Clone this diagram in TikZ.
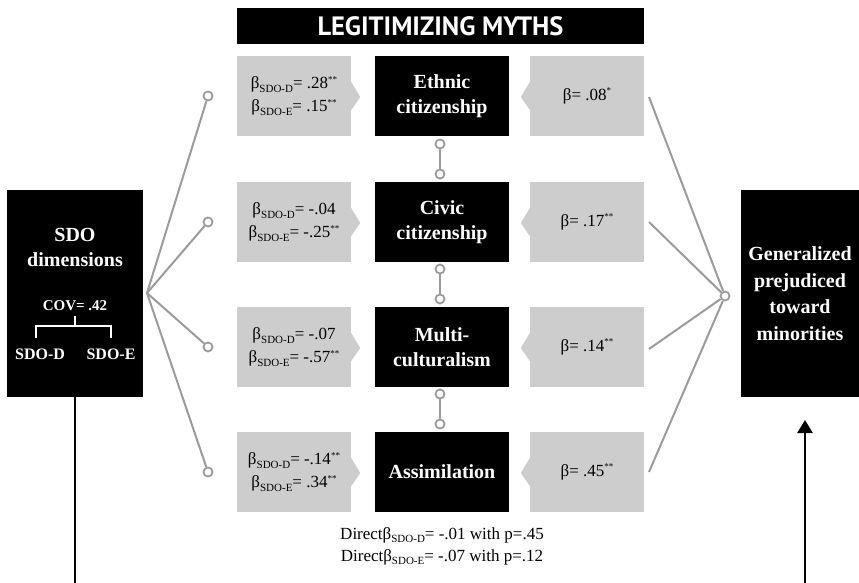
\documentclass[tikz,border=0pt]{standalone}
\usepackage{fontspec}
\setmainfont{Liberation Serif}
\newfontfamily\headfont{PT Sans}
\usetikzlibrary{arrows.meta}

\definecolor{boxgray}{RGB}{205,205,205}
\definecolor{linkgray}{RGB}{155,155,155}

% beta with a lowered label, and significance stars
\newcommand{\bsub}[1]{β\raisebox{-3.5pt}{\fontsize{11}{11}\selectfont #1}}
\newcommand{\stars}[1]{\raisebox{6.5pt}{\fontsize{9}{9}\selectfont #1}}

\tikzset{
  gbox/.style={fill=boxgray, minimum width=114pt, minimum height=80pt,
    inner sep=0pt, align=center, font=\fontsize{17}{23}\selectfont},
  bbox/.style={fill=black, text=white, minimum width=134pt, minimum height=80pt,
    inner sep=0pt, align=center, font=\bfseries\fontsize{20}{25}\selectfont},
  tallbox/.style={fill=black, text=white, minimum height=207pt,
    inner sep=0pt, align=center},
  link/.style={draw=linkgray, line width=2pt},
  knob/.style={circle, draw=linkgray, fill=white, line width=1.8pt,
    minimum size=9pt, inner sep=0pt},
  wline/.style={draw=white, line width=2pt},
  whitetext/.style={text=white, inner sep=0pt, font=\bfseries\fontsize{16}{18}\selectfont},
}

\begin{document}
\begin{tikzpicture}[x=1pt,y=-1pt]
\useasboundingbox (0,0) rectangle (859,583);

% heading bar
\node[fill=black, text=white, minimum width=407pt, minimum height=36pt, inner sep=0pt,
  font=\headfont\bfseries\fontsize{26.5}{28}\selectfont] (title) at (440.5,26) {LEGITIMIZING MYTHS};

% left coefficient boxes
\node[gbox] (lg1) at (294,96)  {\bsub{SDO-D}= .28\stars{**}\\\bsub{SDO-E}= .15\stars{**}};
\node[gbox] (lg2) at (294,222) {\bsub{SDO-D}= -.04\\\bsub{SDO-E}= -.25\stars{**}};
\node[gbox] (lg3) at (294,347) {\bsub{SDO-D}= -.07\\\bsub{SDO-E}= -.57\stars{**}};
\node[gbox] (lg4) at (294,472) {\bsub{SDO-D}= -.14\stars{**}\\\bsub{SDO-E}= .34\stars{**}};

% legitimizing myths
\node[bbox] (m1) at (442,96)  {Ethnic\\citizenship};
\node[bbox] (m2) at (442,222) {Civic\\citizenship};
\node[bbox] (m3) at (442,347) {Multi-\\culturalism};
\node[bbox] (m4) at (442,472) {Assimilation};

% right coefficient boxes
\node[gbox] (rg1) at (587,96)  {β= .08\stars{*}};
\node[gbox] (rg2) at (587,222) {β= .17\stars{**}};
\node[gbox] (rg3) at (587,347) {β= .14\stars{**}};
\node[gbox] (rg4) at (587,472) {β= .45\stars{**}};

% pointers of the coefficient boxes
\foreach \i in {1,...,4}{
  \fill[boxgray] ([yshift=14pt]lg\i.east) -- ([xshift=9pt,yshift=-1pt]lg\i.east)
    -- ([yshift=-14pt]lg\i.east) -- cycle;
  \fill[boxgray] ([yshift=14pt]rg\i.west) -- ([xshift=-9pt,yshift=-1pt]rg\i.west)
    -- ([yshift=-14pt]rg\i.west) -- cycle;
}

% SDO dimensions
\node[tallbox, minimum width=136pt] (sdo) at (75,293.5) {};
\node[whitetext, align=center, font=\bfseries\fontsize{20}{25}\selectfont] (sdot) at (75,247) {SDO\\dimensions};
\node[whitetext, font=\bfseries\fontsize{15}{17}\selectfont] (cov) at (75,306) {COV= .42};
\node[whitetext] (sdod) at (40,354) {SDO-D};
\node[whitetext] (sdoe) at (111,354) {SDO-E};
\draw[wline] (36,338) -- (36,326) -- (111,326) -- (111,338);
\draw[wline] (75,326) -- (75,316);

% outcome
\node[tallbox, minimum width=118pt, font=\bfseries\fontsize{20}{26.5}\selectfont] (gp) at (800,293.5)
  {Generalized\\prejudiced\\toward\\minorities};

% fan from SDO dimensions
\coordinate (lhub) at (147,293);
\node[knob] (lc1) at (208,96) {};
\node[knob] (lc2) at (208,222) {};
\node[knob] (lc3) at (208,347) {};
\node[knob] (lc4) at (208,472) {};
\foreach \i in {1,...,4}{ \draw[link] (lhub) -- (lc\i); }

% fan into the outcome
\node[knob] (rhub) at (725,296) {};
\coordinate (rs1) at (649,97);
\coordinate (rs2) at (649,222);
\coordinate (rs3) at (649,349);
\coordinate (rs4) at (649,472);
\foreach \i in {1,...,4}{ \draw[link] (rs\i) -- (rhub); }

% links between the myths
\node[knob] (k1a) at (440,144) {};
\node[knob] (k1b) at (440,174) {};
\node[knob] (k2a) at (440,269) {};
\node[knob] (k2b) at (440,299) {};
\node[knob] (k3a) at (440,394) {};
\node[knob] (k3b) at (440,424) {};
\draw[link] (k1a) -- (k1b);
\draw[link] (k2a) -- (k2b);
\draw[link] (k3a) -- (k3b);

% direct effect
\node[align=center, inner sep=0pt, font=\fontsize{17}{22}\selectfont] (direct) at (442,546)
  {Direct\bsub{SDO-D}= -.01 with p=.45\\Direct\bsub{SDO-E}= -.07 with p=.12};

\coordinate (lfoot) at (75,583);
\coordinate (rfoot) at (805,583);
\coordinate (rtip) at (805,420);
\draw[line width=2.5pt] (sdo.south) -- (lfoot);
\draw[line width=2.5pt, -{Triangle[width=15pt,length=13pt]}] (rfoot) -- (rtip);
\end{tikzpicture}
\end{document}
